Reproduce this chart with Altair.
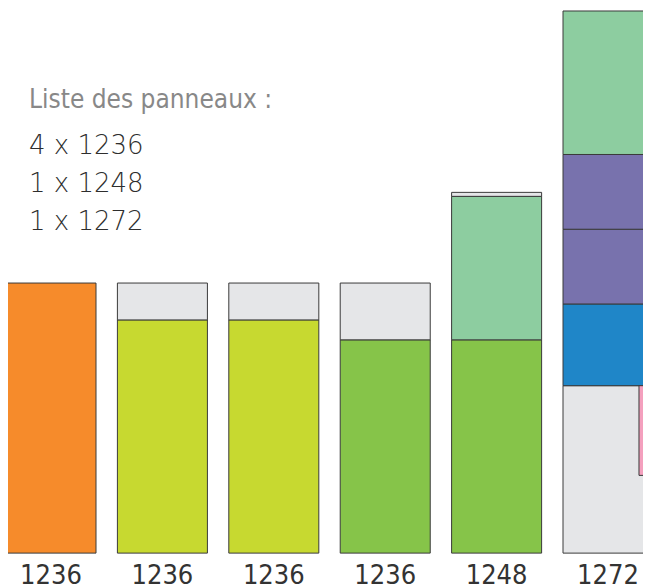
import altair as alt
import pandas as pd
import numpy as np

# Panel labels (bottom)
columns = ["1236", "1236", "1236", "1236", "1248", "1272"]

# Stacked segments, bottom-up: column index, height, colour
seg_col = [0, 1, 1, 2, 2, 3, 3, 4, 4, 4, 5, 5, 5, 5, 5]
seg_h = [271, 234, 37, 234, 37, 214, 57, 214, 144, 4, 168, 82, 75, 75, 144]
seg_color = ["#F68B2B",
             "#C7D930", "#E5E6E8",
             "#C7D930", "#E5E6E8",
             "#86C449", "#E5E6E8",
             "#86C449", "#8DCDA0", "#E5E6E8",
             "#E5E6E8", "#1F86C8", "#7872AD", "#7872AD", "#8DCDA0"]

# Small pink piece inside the last panel
pink_col = [5]
pink_x = [0.278]     # offset from column centre (column units)
pink_y = [78, 168]
pink_color = ["#F4A0BE"]

title_text = "Liste des panneaux :"
list_lines = ["4 x 1236", "1 x 1248", "1 x 1272"]

bar_half = 0.404

rows = []
base = {}
for c, h, col in zip(seg_col, seg_h, seg_color):
    y0 = base.get(c, 0)
    rows.append(dict(x0=c - bar_half, x1=c + bar_half, y0=y0, y1=y0 + h, color=col))
    base[c] = y0 + h
seg_df = pd.DataFrame(rows)

pink_df = pd.DataFrame(dict(x0=[pink_col[0] + pink_x[0]], x1=[pink_col[0] + 0.8],
                            y0=[pink_y[0]], y1=[pink_y[1]], color=pink_color))

lab_df = pd.DataFrame(dict(x=list(range(len(columns))), label=columns))
lines_df = pd.DataFrame(dict(line=list_lines, y=[146, 184, 222]))
title_df = pd.DataFrame(dict(t=[title_text]))

xs = alt.Scale(domain=[-0.386, 5.314], nice=False, zero=False)
ys = alt.Scale(domain=[-32, 547], nice=False, zero=False)

COND = "'DejaVu Sans Condensed', 'DejaVu Sans', sans-serif"

def rects(df):
    return alt.Chart(df).mark_rect(clip=True, stroke="#3a3a3a", strokeWidth=1).encode(
        x=alt.X("x0:Q", scale=xs, axis=None),
        x2="x1:Q",
        y=alt.Y("y0:Q", scale=ys, axis=None),
        y2="y1:Q",
        color=alt.Color("color:N", scale=None),
    )

labels = alt.Chart(lab_df).mark_text(
    font=COND, fontSize=27, color="#333333",
    baseline="alphabetic", align="center"
).encode(
    x=alt.X("x:Q", scale=xs, axis=None),
    y=alt.value(576),
    text="label:N",
)

title = alt.Chart(title_df).mark_text(
    font=COND, fontSize=26, color="#888888",
    baseline="alphabetic", align="left"
).encode(x=alt.value(21), y=alt.value(100), text="t:N")

lines = alt.Chart(lines_df).mark_text(
    font="DejaVu Sans", fontSize=26, fontWeight=200, color="#2e2e2e",
    baseline="alphabetic", align="left"
).encode(x=alt.value(21), y=alt.Y("y:Q", scale=None), text="line:N")

chart = alt.layer(rects(seg_df), rects(pink_df), labels, title, lines).properties(
    width=635, height=579,
    autosize=alt.AutoSizeParams(type="fit", contains="padding"),
    padding=0,
).configure_view(stroke=None)

chart.save("out.html", embed_options={"renderer": "svg", "actions": False})
